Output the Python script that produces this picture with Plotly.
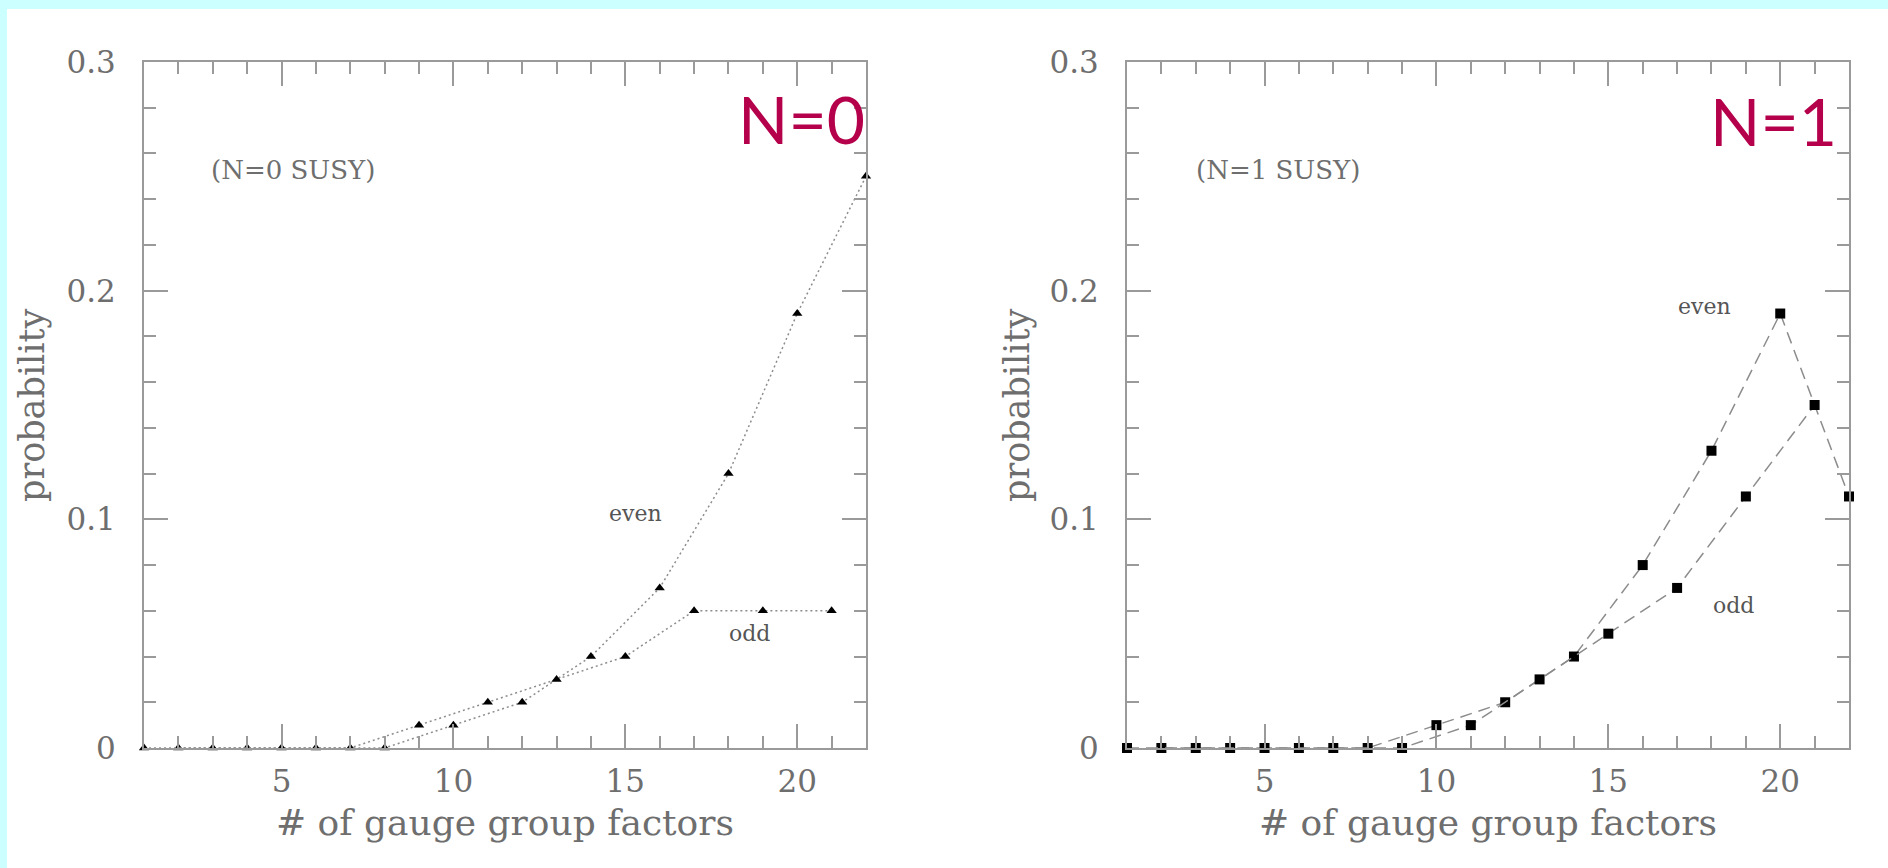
import plotly.graph_objects as go

W, H = 1888, 868

# ---------------- data ----------------
n0_even_x = [2, 4, 6, 8, 10, 12, 14, 16, 18, 20, 22]
n0_even_y = [0, 0, 0, 0, 0.01, 0.02, 0.04, 0.07, 0.12, 0.19, 0.25]
n0_odd_x = [1, 3, 5, 7, 9, 11, 13, 15, 17, 19, 21]
n0_odd_y = [0, 0, 0, 0, 0.01, 0.02, 0.03, 0.04, 0.06, 0.06, 0.06]

n1_even_x = [2, 4, 6, 8, 10, 12, 14, 16, 18, 20, 22]
n1_even_y = [0, 0, 0, 0, 0.01, 0.02, 0.04, 0.08, 0.13, 0.19, 0.11]
n1_odd_x = [1, 3, 5, 7, 9, 11, 13, 15, 17, 19, 21]
n1_odd_y = [0, 0, 0, 0, 0, 0.01, 0.03, 0.05, 0.07, 0.11, 0.15]

x_title = "# of gauge group factors"
y_title = "probability"
panel_notes = ["(N=0 SUSY)", "(N=1 SUSY)"]
panel_tags = ["N=0", "N=1"]

# ---------------- style ----------------
SERIF = "DejaVu Serif"
GRAY_TXT = "#6e6e6e"
AXIS_COL = "#9a9a9a"
LINE_COL = "#8c8c8c"
TAG_COL = "#b5004b"

def px(x):
    return x / W

def py(y):
    return 1 - y / H

fig = go.Figure()

# left panel
fig.add_trace(go.Scatter(x=n0_even_x, y=n0_even_y, mode="lines+markers",
                         line=dict(color=LINE_COL, width=1.5, dash="2px,3px"),
                         marker=dict(symbol="triangle-up", size=9, color="black"),
                         cliponaxis=False, xaxis="x", yaxis="y", showlegend=False))
fig.add_trace(go.Scatter(x=n0_odd_x, y=n0_odd_y, mode="lines+markers",
                         line=dict(color=LINE_COL, width=1.5, dash="2px,3px"),
                         marker=dict(symbol="triangle-up", size=9, color="black"),
                         cliponaxis=False, xaxis="x", yaxis="y", showlegend=False))
# right panel
fig.add_trace(go.Scatter(x=n1_even_x, y=n1_even_y, mode="lines+markers",
                         line=dict(color=LINE_COL, width=1.5, dash="12px,7px"),
                         marker=dict(symbol="square", size=10, color="black"),
                         cliponaxis=False, xaxis="x2", yaxis="y2", showlegend=False))
fig.add_trace(go.Scatter(x=n1_odd_x, y=n1_odd_y, mode="lines+markers",
                         line=dict(color=LINE_COL, width=1.5, dash="12px,7px"),
                         marker=dict(symbol="square", size=10, color="black"),
                         cliponaxis=False, xaxis="x2", yaxis="y2", showlegend=False))

# axes geometry (pixels)
L1, R1 = 144, 866
L2, R2 = 1127, 1849
TOP, BOT = 62, 748

xcommon = dict(range=[1, 22], tick0=0, dtick=5, ticks="inside", ticklen=24,
               tickwidth=1.5, tickcolor=AXIS_COL, showline=True, linecolor=AXIS_COL,
               linewidth=2, mirror="ticks", showgrid=False, zeroline=False,
               minor=dict(dtick=1, tick0=0, ticks="inside", ticklen=12,
                          tickwidth=1.5, tickcolor=AXIS_COL, showgrid=False),
               tickfont=dict(family=SERIF, size=31, color=GRAY_TXT),
               ticklabelstandoff=5, fixedrange=True, automargin=False)
ycommon = dict(range=[0, 0.3], tick0=0, dtick=0.1, ticks="inside", ticklen=24,
               tickwidth=1.5, tickcolor=AXIS_COL, showline=True, linecolor=AXIS_COL,
               linewidth=2, mirror="ticks", showgrid=False, zeroline=False,
               minor=dict(dtick=0.02, tick0=0, ticks="inside", ticklen=12,
                          tickwidth=1.5, tickcolor=AXIS_COL, showgrid=False),
               tickfont=dict(family=SERIF, size=31, color=GRAY_TXT),
               ticklabelstandoff=20, fixedrange=True, automargin=False)

fig.update_layout(
    width=W, height=H,
    margin=dict(l=0, r=0, t=0, b=0, pad=0, autoexpand=False),
    paper_bgcolor="#ccffff",
    plot_bgcolor="white",
    xaxis=dict(domain=[px(L1), px(R1)], anchor="y", **xcommon),
    yaxis=dict(domain=[py(BOT), py(TOP)], anchor="x", **ycommon),
    xaxis2=dict(domain=[px(L2), px(R2)], anchor="y2", **xcommon),
    yaxis2=dict(domain=[py(BOT), py(TOP)], anchor="x2", **ycommon),
    shapes=[dict(type="rect", xref="paper", yref="paper", x0=px(7), x1=1.0,
                 y0=0, y1=py(9), fillcolor="white", line=dict(width=0), layer="below")],
)

ann = []
for (left, right, ytx, note_x, tag_right, tag_y, lbl) in [
    (L1, R1, 32, 293, 867, 118, 0),
    (L2, R2, 1017, 1278, 1839, 120, 1),
]:
    ann.append(dict(text=x_title, xref="paper", yref="paper", x=px((left + right) / 2),
                    y=py(822), xanchor="center", yanchor="middle", showarrow=False,
                    font=dict(family=SERIF, size=36, color=GRAY_TXT)))
    ann.append(dict(text=y_title, xref="paper", yref="paper", x=px(ytx), y=py(405),
                    xanchor="center", yanchor="middle", textangle=-90, showarrow=False,
                    font=dict(family=SERIF, size=35, color=GRAY_TXT)))
    ann.append(dict(text=panel_notes[lbl], xref="paper", yref="paper", x=px(note_x),
                    y=py(170), xanchor="center", yanchor="middle", showarrow=False,
                    font=dict(family=SERIF, size=26, color=GRAY_TXT)))
    ann.append(dict(text=panel_tags[lbl], xref="paper", yref="paper", x=px(tag_right),
                    y=py(tag_y), xanchor="right", yanchor="middle", showarrow=False,
                    font=dict(family="Lato", size=66, color=TAG_COL)))

# series labels
for txt, x, y in [("even", 635, 513), ("odd", 749, 633), ("even", 1704, 307), ("odd", 1733, 605)]:
    ann.append(dict(text=txt, xref="paper", yref="paper", x=px(x), y=py(y),
                    xanchor="center", yanchor="middle", showarrow=False,
                    font=dict(family=SERIF, size=22, color="#555555")))

fig.update_layout(annotations=ann)
fig.write_html("out.html")
